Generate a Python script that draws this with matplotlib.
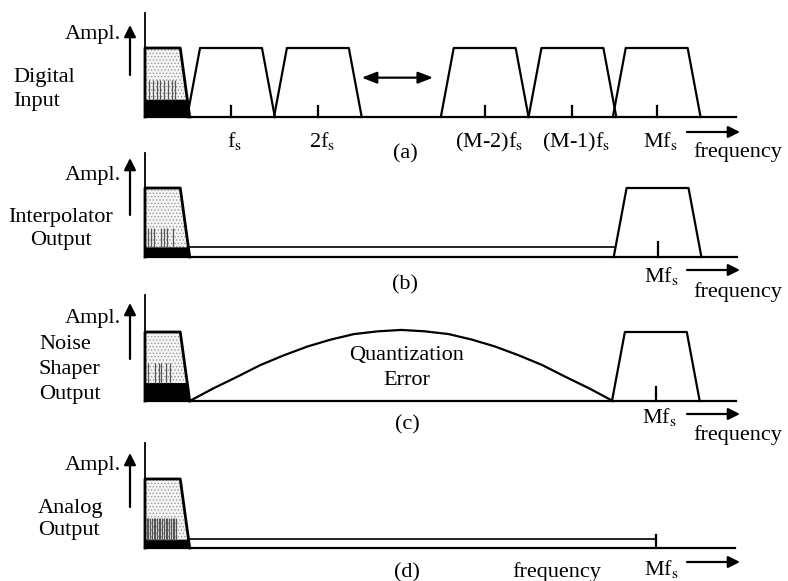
import numpy as np
import matplotlib.pyplot as plt

plt.rcParams['font.family'] = 'Liberation Serif'
plt.rcParams['mathtext.fontset'] = 'stix'
plt.rcParams['hatch.linewidth'] = 0.6

W, H = 788, 581
FS = 86.0   # pixels per fs
AMP = 69.0  # pixels per unit amplitude
X0 = 145    # pixel position of f = 0

# baseband spectrum (units: fs, amplitude)
band_x = [0.0, 0.0, 0.41, 0.52]
band_y = [0.0, 1.0, 1.0, 0.0]

# image spectra, half widths at top and bottom
img_half_top = 0.36
img_half_bot = 0.51

# (a) digital input
a_images = [1.0, 2.01, 3.95, 4.97, 5.95]
a_labels = ['f$_\\mathrm{s}$', '2f$_\\mathrm{s}$', '(M-2)f$_\\mathrm{s}$',
            '(M-1)f$_\\mathrm{s}$', 'Mf$_\\mathrm{s}$']

# (b), (c) single image at M*fs
mfs_b = 5.96
mfs_c = 5.94
mfs_d = 5.94

# noise floor heights
floor_b = 0.14
floor_d = 0.13

# (c) quantization error, shaped noise
qe_f = [0.52, 0.79, 1.07, 1.34, 1.61, 1.89, 2.16, 2.43, 2.71, 2.98,
        3.25, 3.53, 3.80, 4.07, 4.35, 4.62, 4.89, 5.17, 5.44]
qe_a = [0.0, 0.18, 0.35, 0.52, 0.66, 0.79, 0.89, 0.97, 1.01, 1.03,
        1.01, 0.97, 0.89, 0.79, 0.66, 0.52, 0.35, 0.18, 0.0]

# noise spikes inside baseband
spikes_a = [0.05, 0.09, 0.14, 0.18, 0.22, 0.27, 0.31, 0.35]
spikes_b = [0.04, 0.07, 0.11, 0.19, 0.22, 0.26, 0.33]
spikes_c = [0.04, 0.12, 0.16, 0.19, 0.24, 0.29]
spikes_d = [0.02, 0.04, 0.06, 0.08, 0.1, 0.12, 0.14, 0.16, 0.18, 0.2,
            0.22, 0.24, 0.26, 0.28, 0.3, 0.32, 0.34, 0.36]

LW = 1.6
fig = plt.figure(figsize=(W / 100, H / 100), dpi=100)


def px(x, y):
    return (x / W, 1 - y / H)


def panel(base, top, x_end):
    ax = fig.add_axes([0, 0, 1, 1])
    ax.set_xlim(-X0 / FS, (W - X0) / FS)
    ax.set_ylim(-(H - base) / AMP, base / AMP)
    ax.axis('off')
    ax.patch.set_alpha(0)
    ax.plot([0, 0], [0, (base - top) / AMP], color='k', lw=1.3)
    ax.plot([0, x_end], [0, 0], color='k', lw=LW)
    return ax


def baseband(ax, dark, spikes, spike_top):
    ax.fill(band_x, band_y, facecolor='#f4f4f4', edgecolor='#9a9a9a',
            hatch='.....', lw=0)
    slope = band_x[3] - band_x[2]
    xr = band_x[3] - slope * dark
    ax.fill([0, 0, xr, band_x[3]], [0, dark, dark, 0], color='k', lw=0)
    ax.vlines(spikes, dark, spike_top, color='#555555', lw=0.9)
    ax.plot(band_x, band_y, color='k', lw=LW + 0.4)


def image(ax, c, tick):
    ax.plot([c - img_half_bot, c - img_half_top, c + img_half_top, c + img_half_bot],
            [0, 1, 1, 0], color='k', lw=LW)
    ax.plot([c, c], [0, tick], color='k', lw=LW)


def text(x, y, s, ha='left', size=16):
    fig.text(*px(x, y), s, ha=ha, va='baseline', fontsize=size)


def arrow(x1, y1, x2, y2):
    fig.add_artist(plt.matplotlib.patches.FancyArrowPatch(
        px(x1, y1), px(x2, y2), transform=fig.transFigure,
        arrowstyle='-|>,head_length=7,head_width=3.5', color='k', lw=1.6,
        shrinkA=0, shrinkB=0))


def left_labels(base_y, ampl_y, arrow_y, lines, ha, lx):
    text(121, ampl_y, 'Ampl.', ha='right')
    arrow(130, arrow_y[0], 130, arrow_y[1])
    for s, y in zip(lines, base_y):
        text(lx, y, s, ha=ha)


def freq_arrow(y_arrow, y_text, x_text=693):
    arrow(687, y_arrow, 740, y_arrow)
    text(x_text, y_text, 'frequency')


# ---------- (a)
ax = panel(117, 13, (736 - X0) / FS)
baseband(ax, 0.25, spikes_a, 0.54)
for c in a_images:
    image(ax, c, 0.16)
ax.annotate('', xy=(3.35, 0.57), xytext=(2.52, 0.57),
            arrowprops=dict(arrowstyle='<|-|>,head_length=0.9,head_width=0.35',
                            color='k', lw=1.6, shrinkA=0, shrinkB=0))
for c, s in zip(a_images, a_labels):
    text(X0 + c * FS + 4, 147, s, ha='center')
text(405, 158, '(a)', ha='center')
freq_arrow(132, 157)
left_labels([82, 106], 39, (75, 25), ['Digital', 'Input'], 'left', 13)

# ---------- (b)
ax = panel(257, 153, (737 - X0) / FS)
ax.plot([band_x[3], mfs_b - img_half_bot], [floor_b, floor_b], color='k', lw=1.2)
baseband(ax, floor_b, spikes_b, 0.42)
image(ax, mfs_b, 0.22)
text(X0 + mfs_b * FS + 4, 282, 'Mf$_\\mathrm{s}$', ha='center')
text(405, 289, '(b)', ha='center')
freq_arrow(270, 297)
left_labels([222, 245], 180, (215, 158), ['Interpolator', 'Output'], 'center', 61)

# ---------- (c)
ax = panel(401, 295, (736 - X0) / FS)
ax.plot(qe_f, qe_a, color='k', lw=LW)
baseband(ax, 0.26, spikes_c, 0.55)
image(ax, mfs_c, 0.2)
text(407, 360, 'Quantization', ha='center')
text(407, 385, 'Error', ha='center')
text(X0 + mfs_c * FS + 4, 423, 'Mf$_\\mathrm{s}$', ha='center')
text(407, 429, '(c)', ha='center')
freq_arrow(414, 440)
left_labels([349, 374, 399], 323, (359, 303), ['Noise', 'Shaper', 'Output'], 'left', 39)

# ---------- (d)
ax = panel(548, 443, (735 - X0) / FS)
ax.plot([band_x[3], mfs_d], [floor_d, floor_d], color='k', lw=1.2)
ax.plot([mfs_d, mfs_d], [0, 0.19], color='k', lw=LW)
baseband(ax, 0.12, spikes_d, 0.43)
text(X0 + mfs_d * FS + 6, 575, 'Mf$_\\mathrm{s}$', ha='center')
text(407, 577, '(d)', ha='center')
text(557, 577, 'frequency', ha='center')
arrow(687, 562, 740, 562)
left_labels([513, 535], 470, (507, 453), ['Analog', 'Output'], 'left', 38)

fig.savefig('out.png', dpi=100)
